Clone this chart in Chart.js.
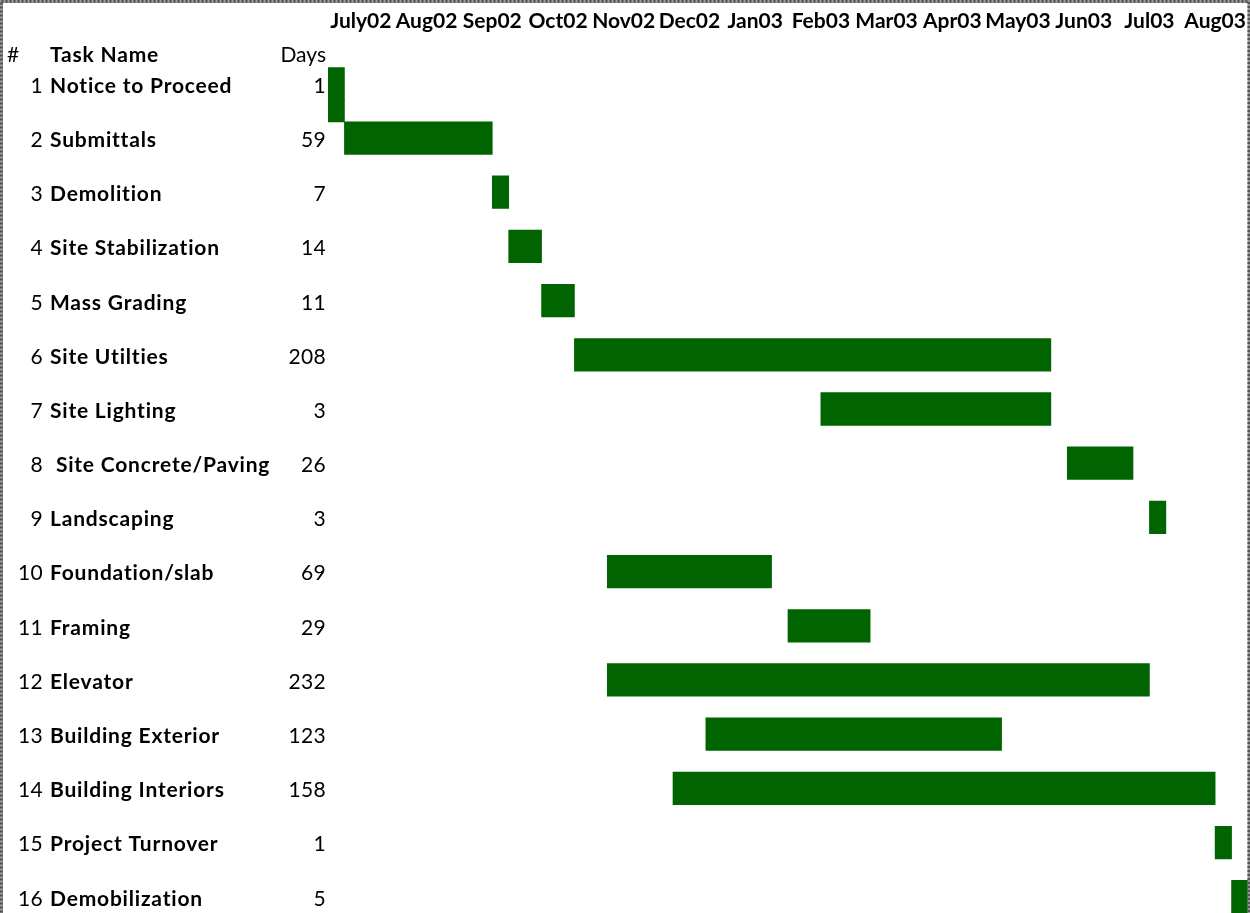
<!DOCTYPE html>
<html>
<head>
<meta charset="utf-8">
<script src="https://cdn.jsdelivr.net/npm/chart.js@4"></script>
<style>
  html, body { margin: 0; padding: 0; background: #fff; }
  #wrap { width: 1250px; height: 913px; position: relative; }
</style>
</head>
<body>
<div id="wrap"><canvas id="c" width="1250" height="913"></canvas></div>
<script>
// ---- data ----
const taskNums = [1,2,3,4,5,6,7,8,9,10,11,12,13,14,15,16];
const taskNames = ["Notice to Proceed","Submittals","Demolition","Site Stabilization","Mass Grading","Site Utilties","Site Lighting"," Site Concrete/Paving","Landscaping","Foundation/slab","Framing","Elevator","Building Exterior","Building Interiors","Project Turnover","Demobilization"];
const taskDays = [1,59,7,14,11,208,3,26,3,69,29,232,123,158,1,5];
// schedule in week units from start of July 2002 (4 units per month column)
const startWeek = [0,1,10,11,13,15,30,45,50,17,28,17,23,21,54,55];
const endWeek   = [1,10,11,13,15,44,44,49,51,27,33,50,41,54,55,56];
const monthLabels = ["July02","Aug02","Sep02","Oct02","Nov02","Dec02","Jan03","Feb03","Mar03","Apr03","May03","Jun03","Jul03","Aug03"];
// the Notice to Proceed fill also covers the gap down to row 2
const noticeExtension = [{ start: 0, end: 1, row: 1.5 }];

const FONT = "Lato, 'Liberation Sans', Arial, sans-serif";
const GREEN = '#006400';

const barData = taskNums.map((n, i) => ({ x: [startWeek[i], endWeek[i]], y: n }));
const extData = noticeExtension.map(d => ({ x: [d.start, d.end], y: d.row }));

const textPlugin = {
  id: 'tableText',
  afterDraw(chart) {
    const ctx = chart.ctx;
    const y = chart.scales.y;
    ctx.save();
    ctx.fillStyle = '#000';
    ctx.textBaseline = 'alphabetic';
    // header
    ctx.font = '21px ' + FONT;
    ctx.letterSpacing = '0px';
    ctx.textAlign = 'left';
    ctx.fillText('#', 7, 61.7);
    ctx.textAlign = 'right';
    ctx.fillText('Days', 326, 61.7);
    ctx.font = 'bold 21px ' + FONT;
    ctx.letterSpacing = '0.8px';
    ctx.textAlign = 'left';
    ctx.fillText('Task Name', 50, 61.7);
    // rows
    taskNums.forEach((n, i) => {
      const py = y.getPixelForValue(n) + 8.9;
      ctx.font = '21px ' + FONT;
      ctx.letterSpacing = '0.3px';
      ctx.textAlign = 'right';
      ctx.fillText(String(n), 43, py);
      ctx.fillText(String(taskDays[i]), 326, py);
      ctx.font = 'bold 21px ' + FONT;
      ctx.letterSpacing = '0.8px';
      ctx.textAlign = 'left';
      ctx.fillText(taskNames[i], 50, py);
    });
    ctx.letterSpacing = '0px';
    // dotted frame
    ctx.lineWidth = 3;
    ctx.strokeStyle = '#9a9a9a';
    ctx.setLineDash([]);
    ctx.strokeRect(1.5, 1.5, 1247.5, 920);
    ctx.strokeStyle = '#555';
    ctx.setLineDash([2, 2]);
    ctx.strokeRect(1.5, 1.5, 1247.5, 920);
    ctx.restore();
  }
};

new Chart(document.getElementById('c'), {
  type: 'bar',
  data: {
    datasets: [
      { label: 'Tasks', data: barData, backgroundColor: GREEN, barThickness: 32.6, grouped: false, borderWidth: 0 },
      { label: 'Notice extension', data: extData, backgroundColor: GREEN, barThickness: 22, grouped: false, borderWidth: 0 }
    ]
  },
  options: {
    indexAxis: 'y',
    responsive: false,
    animation: false,
    events: [],
    layout: { padding: { left: 328, right: 2, top: 0, bottom: 0 } },
    plugins: { legend: { display: false }, tooltip: { enabled: false } },
    scales: {
      x: {
        type: 'linear',
        position: 'top',
        min: 0,
        max: 56,
        offset: false,
        grid: { display: false, drawTicks: false },
        border: { display: false },
        afterBuildTicks(scale) {
          scale.ticks = monthLabels.map((m, i) => ({ value: i * 4 + 2 }));
        },
        afterFit(scale) { scale.paddingLeft = 0; scale.paddingRight = 0; },
        ticks: {
          autoSkip: false,
          maxRotation: 0,
          minRotation: 0,
          padding: 9,
          color: '#000',
          font: { family: FONT, size: 21, weight: 'bold', lineHeight: 1.2 },
          callback(value) { return monthLabels[(value - 2) / 4]; }
        }
      },
      y: {
        type: 'linear',
        reverse: true,
        offset: false,
        min: 0.25,
        max: 16.3,
        display: false
      }
    }
  },
  plugins: [textPlugin]
});
</script>
</body>
</html>
